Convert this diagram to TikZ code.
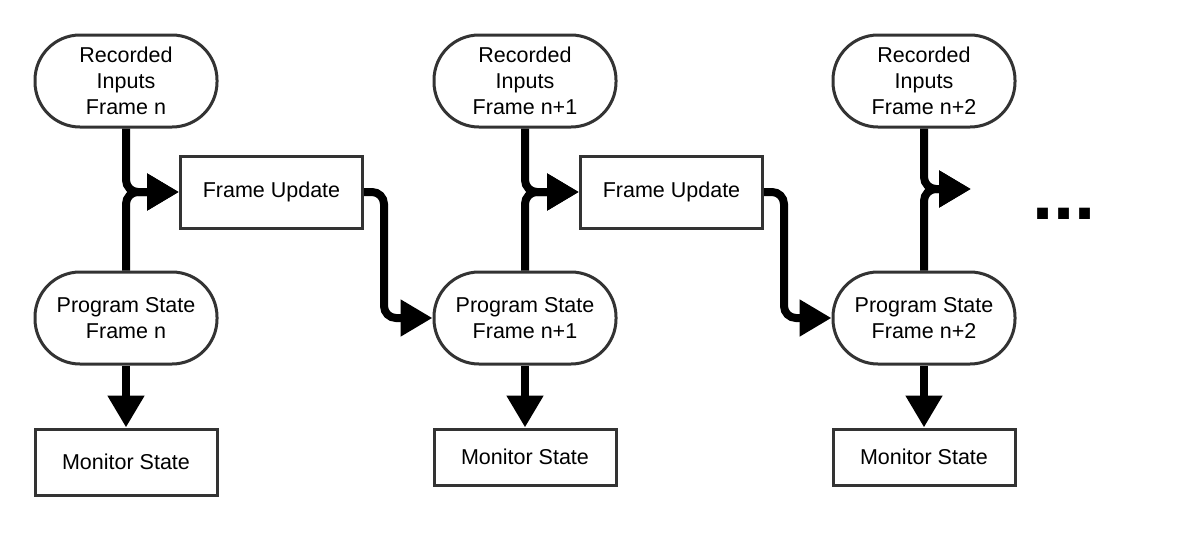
\documentclass[tikz,border=0pt]{standalone}
\usepackage{fontspec}
\setmainfont{Liberation Sans}
\usetikzlibrary{positioning, arrows.meta}

\begin{document}
\begin{tikzpicture}[x=1pt, y=1pt, font=\fontsize{21.5}{26}\selectfont,
		term/.style={draw=black!80, line width=3pt, rounded corners=45pt, minimum width=182pt, minimum height=92pt, align=center, inner sep=0pt},
		box/.style={draw=black!80, line width=3pt, minimum width=182pt, minimum height=56pt, inner sep=0pt},
		upd/.style={box, minimum height=72pt},
		flow/.style={line width=8pt, rounded corners=12pt, -{Triangle[length=32pt, width=35pt]}}]
		\useasboundingbox (0,0) rectangle (1200,-550);

		\node[term] at (126,-81) (RI1) {Recorded\\Inputs\\Frame n};
		\node[term, below=142pt of RI1] (PS1) {Program State\\Frame n};
		\node[box, minimum height=66pt, below=62pt of PS1] (MS1) {Monitor State};
		\node[upd, below right=26pt and 53pt of RI1.south] (FU1) {Frame Update};

		\node[term, right=214pt of RI1] (RI2) {Recorded\\Inputs\\Frame n+1};
		\node[term, below=142pt of RI2] (PS2) {Program State\\Frame n+1};
		\node[box, below=62pt of PS2] (MS2) {Monitor State};
		\node[upd, right=215pt of FU1] (FU2) {Frame Update};

		\node[term, right=214pt of RI2] (RI3) {Recorded\\Inputs\\Frame n+2};
		\node[term, below=142pt of RI3] (PS3) {Program State\\Frame n+2};
		\node[box, below=62pt of PS3] (MS3) {Monitor State};
		\coordinate (FU3) at (971,-189);

		\node[anchor=base, font=\fontsize{76}{80}\selectfont\bfseries] at (1064,-219) (more) {...};

		\draw[flow] (RI1.south) |- (FU1.west);
		\draw[flow] (PS1.north) |- (FU1.west);
		\draw[flow] (PS1) -- (MS1);
		\draw[flow] (FU1.east) -- ++(20,0) |- (PS2.west);

		\draw[flow] (RI2.south) |- (FU2.west);
		\draw[flow] (PS2.north) |- (FU2.west);
		\draw[flow] (PS2) -- (MS2);
		\draw[flow] (FU2.east) -- ++(20,0) |- (PS3.west);

		\draw[flow] (RI3.south) |- (FU3);
		\draw[flow] (PS3.north) |- (FU3);
		\draw[flow] (PS3) -- (MS3);
	\end{tikzpicture}
\end{document}
